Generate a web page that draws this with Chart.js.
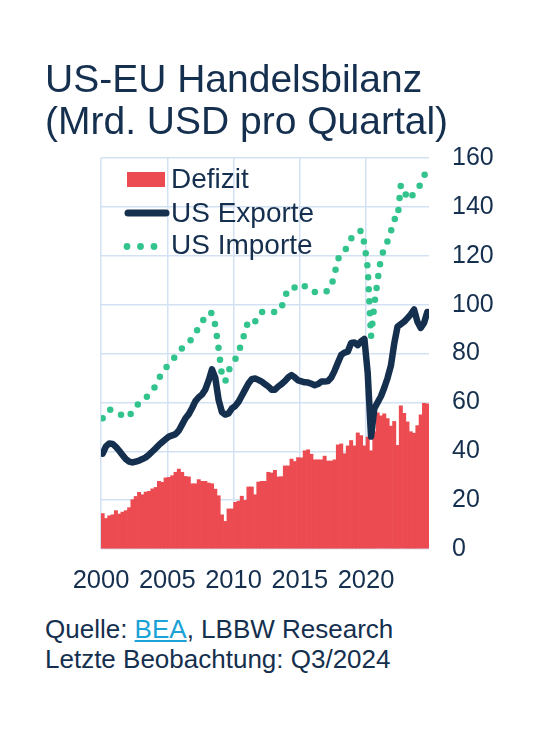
<!DOCTYPE html>
<html>
<head>
<meta charset="utf-8">
<script src="https://cdn.jsdelivr.net/npm/chart.js@4.4.1/dist/chart.umd.min.js"></script>
<style>
  html, body { margin: 0; padding: 0; background: #fff; }
  body {
    width: 534px; height: 738px; position: relative; overflow: hidden;
    font-family: "Liberation Sans", Arial, sans-serif; color: #152f4e;
  }
  #title { position: absolute; left: 45px; top: 58px; font-size: 39px; line-height: 42px; white-space: nowrap; }
  #chartBox { position: absolute; left: 0; top: 0; width: 534px; height: 600px; }
  #source { position: absolute; left: 45px; top: 614px; font-size: 26px; line-height: 30px; white-space: nowrap; }
  #source a { color: #1ba2d6; text-decoration: underline; }
</style>
</head>
<body>
<div id="chartBox"><canvas id="handel" width="534" height="600"></canvas></div>
<div id="title">US-EU Handelsbilanz<br>(Mrd. USD pro Quartal)</div>
<div id="source">Quelle: <a href="#">BEA</a>, LBBW Research<br>Letzte Beobachtung: Q3/2024</div>
<script>
// Quartale 2000Q1 .. 2024Q3
const firstYear = 2000;
const quarterCount = 99;

const defizit = [
  14.5, 12.5, 13.6, 14.0, 15.7, 14.3, 15.1, 15.7, 16.9, 20.2,
  21.5, 23.2, 22.2, 23.3, 23.6, 24.6, 25.2, 27.7, 27.3, 29.1,
  29.3, 30.0, 31.4, 32.7, 31.4, 29.7, 29.5, 26.7, 26.7, 28.4,
  27.7, 27.7, 27.0, 26.7, 24.5, 21.8, 14.0, 11.3, 16.4, 16.4,
  19.1, 19.6, 21.6, 19.9, 25.4, 25.4, 22.2, 27.4, 27.7, 27.7,
  31.4, 31.1, 32.2, 29.5, 29.6, 34.0, 34.0, 36.8, 35.8, 37.4,
  37.3, 40.2, 40.6, 38.8, 36.5, 36.5, 36.5, 38.0, 36.0, 36.0,
  36.5, 42.6, 43.0, 39.0, 42.2, 44.4, 42.2, 47.5, 46.4, 42.2,
  45.8, 40.2, 48.0, 55.7, 54.5, 55.3, 53.4, 50.3, 52.2, 42.4,
  58.6, 55.5, 52.0, 48.0, 47.4, 50.5, 54.9, 59.6, 59.4
];

const exporte = [
  39.0, 42.0, 43.2, 43.0, 41.8, 40.2, 38.4, 36.8, 35.8, 35.4,
  35.8, 36.2, 36.8, 37.5, 38.6, 39.9, 41.2, 42.6, 43.8, 44.9,
  46.0, 46.5, 47.0, 48.5, 51.0, 53.5, 55.2, 57.7, 60.5, 62.1,
  63.2, 65.3, 69.0, 73.5, 70.0, 61.0, 56.0, 55.0, 55.5, 57.5,
  58.5, 60.2, 62.7, 65.2, 67.7, 69.5, 69.8, 69.2, 68.5, 67.5,
  66.5, 65.2, 65.2, 66.5, 67.5, 68.7, 70.2, 71.2, 70.2, 69.0,
  68.6, 68.2, 68.1, 67.6, 67.0, 67.5, 68.5, 68.5, 68.7, 70.2,
  72.9, 76.2, 79.4, 80.4, 80.8, 84.3, 84.5, 83.4, 85.0, 86.0,
  72.0, 46.0, 57.5, 60.0, 62.5, 66.0, 70.0, 75.0, 84.0, 91.0,
  92.0, 93.0, 94.5, 96.0, 98.0, 93.0, 90.5, 92.5, 97.0
];

const importe = [
  53.5, 56.0, 57.0, 56.8, 56.2, 55.5, 54.5, 53.8, 54.2, 56.5,
  58.5, 59.5, 60.5, 61.8, 63.2, 64.8, 66.8, 69.8, 72.2, 74.0,
  75.8, 77.2, 79.0, 80.8, 82.2, 83.5, 84.5, 86.2, 88.5, 90.5,
  92.8, 95.3, 96.8, 96.5, 91.5, 82.0, 71.0, 68.5, 73.0, 75.5,
  77.5, 80.5, 84.5, 89.0, 93.5, 93.5, 93.0, 96.0, 97.0, 97.0,
  97.0, 97.0, 97.0, 97.0, 99.0, 103.0, 106.5, 106.7, 107.0, 108.0,
  108.5, 107.5, 106.0, 105.5, 105.2, 105.0, 105.0, 105.2, 105.7, 107.5,
  112.5, 118.5, 121.0, 122.0, 124.0, 127.0, 128.8, 129.5, 130.3, 125.0,
  115.0, 87.0, 100.0, 110.0, 119.0, 123.0, 126.0, 130.0, 135.0, 135.0,
  149.0, 147.0, 143.0, 144.0, 145.5, 147.0, 149.5, 152.5, 156.0
];

const yearTicks = [2000, 2005, 2010, 2015, 2020];
const valueTicks = [0, 20, 40, 60, 80, 100, 120, 140, 160];

// Quartalsmitte als x-Position
const quarterPos = [];
for (let i = 0; i < quarterCount; i++) {
  quarterPos.push(firstYear + i / 4 + 0.125);
}
const toPoints = arr => arr.map((v, i) => ({ x: quarterPos[i], y: v }));

const navy = '#152f4e';
const red = '#eb4b51';
const green = '#33c48e';
const gridColor = '#d3e2f3';

// Legende innerhalb der Zeichenfläche
const insideLegend = {
  id: 'insideLegend',
  afterDraw(chart) {
    const { ctx, chartArea } = chart;
    const l = chartArea.left, t = chartArea.top;
    ctx.save();
    ctx.font = '28px "Liberation Sans", Arial, sans-serif';
    ctx.fillStyle = navy;
    ctx.textBaseline = 'alphabetic';
    ctx.fillText('Defizit', l + 70, t + 30);
    ctx.fillText('US Exporte', l + 70, t + 63.5);
    ctx.fillText('US Importe', l + 70, t + 96);

    ctx.fillStyle = red;
    ctx.fillRect(l + 26, t + 14, 38, 15);

    ctx.strokeStyle = navy;
    ctx.lineWidth = 7;
    ctx.lineCap = 'round';
    ctx.beginPath();
    ctx.moveTo(l + 27, t + 55);
    ctx.lineTo(l + 65, t + 55);
    ctx.stroke();

    ctx.fillStyle = green;
    [26, 39.5, 53].forEach(dx => {
      ctx.beginPath();
      ctx.arc(l + dx, t + 88.5, 3.4, 0, Math.PI * 2);
      ctx.fill();
    });
    ctx.restore();
  }
};

new Chart(document.getElementById('handel'), {
  data: {
    datasets: [
      {
        type: 'line',
        label: 'US Importe',
        data: toPoints(importe),
        borderColor: green,
        borderWidth: 6.5,
        borderDash: [0, 12],
        borderCapStyle: 'round',
        pointRadius: 0,
        tension: 0,
        order: 1
      },
      {
        type: 'line',
        label: 'US Exporte',
        data: toPoints(exporte),
        borderColor: navy,
        borderWidth: 6.5,
        borderJoinStyle: 'round',
        borderCapStyle: 'round',
        pointRadius: 0,
        tension: 0,
        order: 2
      },
      {
        type: 'bar',
        label: 'Defizit',
        data: toPoints(defizit),
        backgroundColor: red,
        borderWidth: 0,
        barPercentage: 1,
        categoryPercentage: 1,
        order: 3
      }
    ]
  },
  options: {
    responsive: false,
    animation: false,
    devicePixelRatio: 1,
    layout: { padding: { left: 101, top: 158, right: 0, bottom: 0 } },
    plugins: {
      legend: { display: false },
      tooltip: { enabled: false }
    },
    scales: {
      x: {
        type: 'linear',
        min: 2000,
        max: 2024.75,
        offset: false,
        afterBuildTicks: s => { s.ticks = yearTicks.map(v => ({ value: v })); },
        afterFit: s => { s.height = 51; },
        grid: { color: gridColor, lineWidth: 1.5, drawTicks: false, offset: false },
        border: { display: false },
        ticks: {
          padding: 17,
          maxRotation: 0,
          autoSkip: false,
          color: navy,
          font: { family: '"Liberation Sans", Arial, sans-serif', size: 25.5 },
          callback: v => String(v)
        }
      },
      y: {
        type: 'linear',
        position: 'right',
        min: 0,
        max: 160,
        afterBuildTicks: s => { s.ticks = valueTicks.map(v => ({ value: v })); },
        afterFit: s => { s.width = 105; },
        grid: { color: gridColor, lineWidth: 1.5, drawTicks: false },
        border: { display: false },
        ticks: {
          padding: 23,
          color: navy,
          font: { family: '"Liberation Sans", Arial, sans-serif', size: 25 }
        }
      }
    }
  },
  plugins: [insideLegend]
});
</script>
</body>
</html>
